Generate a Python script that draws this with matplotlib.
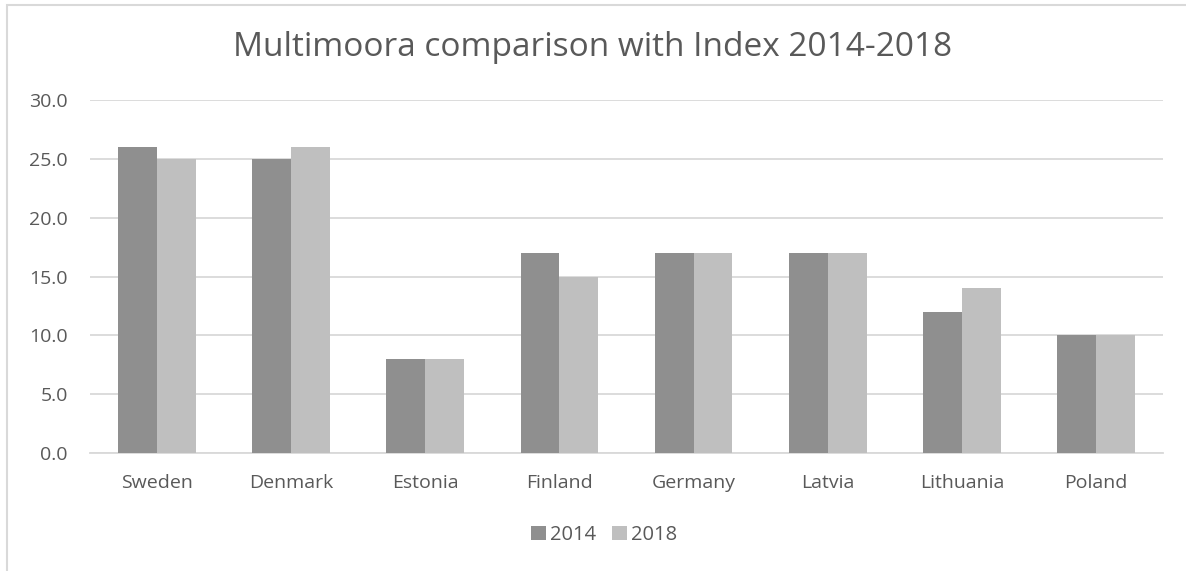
import numpy as np
import matplotlib.pyplot as plt
from matplotlib.patches import Rectangle

plt.rcParams['font.family'] = ['Open Sans', 'DejaVu Sans']

# data
countries = ['Sweden', 'Denmark', 'Estonia', 'Finland', 'Germany', 'Latvia', 'Lithuania', 'Poland']
vals_2014 = [26, 25, 8, 17, 17, 17, 12, 10]
vals_2018 = [25, 26, 8, 15, 17, 17, 14, 10]

text_col = '#595959'
grid_col = '#d9d9d9'

fig = plt.figure(figsize=(11.86, 5.71), dpi=100)
ax = fig.add_axes([90 / 1186, 1 - 453 / 571, (1163 - 90) / 1186, (453 - 100) / 571])

x = np.arange(len(countries))
w = 0.29
ax.bar(x - w / 2, vals_2014, w, color='#8f8f8f', label='2014', zorder=3)
ax.bar(x + w / 2, vals_2018, w, color='#bfbfbf', label='2018', zorder=3)

ax.set_xlim(-0.5, len(countries) - 0.5)
ax.set_ylim(0, 30)
ax.set_yticks(np.arange(0, 31, 5))
ax.set_yticklabels([f'{v:.1f}' for v in np.arange(0, 31, 5)])
ax.set_xticks(x)
ax.set_xticklabels(countries)
ax.tick_params(length=0, colors=text_col, labelsize=14)
ax.tick_params(axis='y', pad=16)
ax.tick_params(axis='x', pad=15)
ax.yaxis.grid(True, color=grid_col, linewidth=1.3)
ax.set_axisbelow(True)
for s in ['top', 'right', 'left']:
    ax.spines[s].set_visible(False)
ax.spines['bottom'].set_color(grid_col)
ax.spines['bottom'].set_linewidth(1.3)

fig.text(0.5, 1 - 47 / 571, 'Multimoora comparison with Index 2014-2018',
         ha='center', va='center', fontsize=24, color=text_col)

leg = fig.legend(loc='center', bbox_to_anchor=(604 / 1186, 1 - 535 / 571), ncol=2,
                 frameon=False, fontsize=14.5, handlelength=0.75, handleheight=0.75,
                 handletextpad=0.2, columnspacing=0.8)
for t in leg.get_texts():
    t.set_color(text_col)

# chart border
fig.patches.append(Rectangle((7 / 1186, -0.1), 1.2, 1 - 5 / 571 + 0.1, transform=fig.transFigure,
                             fill=False, edgecolor=grid_col, linewidth=1.5))

plt.savefig('out.png')
